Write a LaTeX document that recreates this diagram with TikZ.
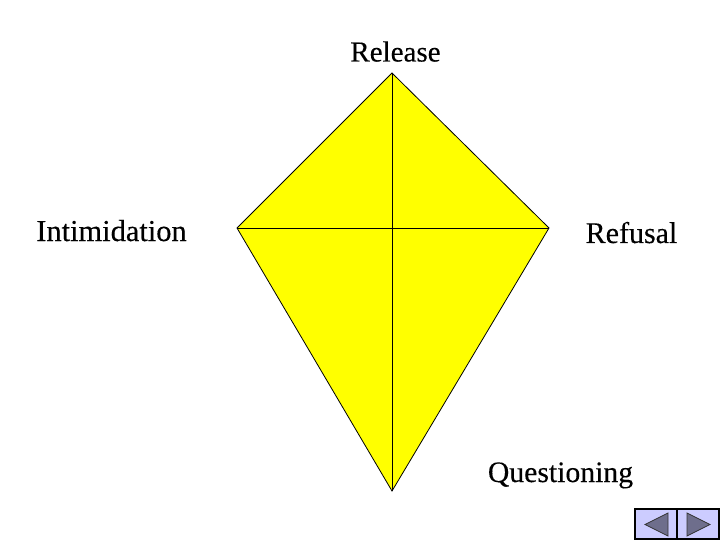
\documentclass[tikz,border=0pt]{standalone}
\usepackage{fontspec}
\setmainfont{Liberation Serif}
\newfontfamily\lblfont{Liberation Serif}[FakeBold=0.25]
\definecolor{navfill}{HTML}{CCCCFF}
\definecolor{navarrow}{HTML}{6E6E8C}
\definecolor{kiteyellow}{HTML}{FFFF00}
\tikzset{
  lbl/.style={inner sep=0pt,font=\lblfont\fontsize{#1}{32}\selectfont,text=black,anchor=base},
  lbl/.default=29.7,
  kite/.style={draw=black,line width=0.8pt,fill=kiteyellow,line join=miter},
  spar/.style={draw=black,line width=0.8pt},
  navbox/.style={draw=black,line width=1.1pt,fill=navfill},
  navtri/.style={draw=black!80,line width=0.8pt,fill=navarrow}
}
\begin{document}
\begin{tikzpicture}[x=1pt,y=-1pt]
\useasboundingbox (0,0) rectangle (720,540);
\fill[white] (0,0) rectangle (720,540);
\coordinate (top) at (392,73);
\coordinate (left) at (237,228);
\coordinate (right) at (549,228);
\coordinate (bottom) at (392,491);
\path[kite] (top) -- (right) -- (bottom) -- (left) -- cycle;
\path[spar] (top) -- (bottom);
\path[spar] (left) -- (right);
\node[lbl=29] (release) at (395.5,61.5) {Release};
\node[lbl=30.4] (intim) at (111.5,241) {Intimidation};
\node[lbl=30] (refusal) at (631.5,243) {Refusal};
\node[lbl] (quest) at (560.5,482) {Questioning};
\path[navbox] (635,509) rectangle (677,539);
\path[navbox] (677,509) rectangle (719,539);
\path[navtri] (645,524.5) -- (668,513) -- (668,536) -- cycle;
\path[navtri] (710,524.5) -- (687,513) -- (687,536) -- cycle;
\end{tikzpicture}
\end{document}
